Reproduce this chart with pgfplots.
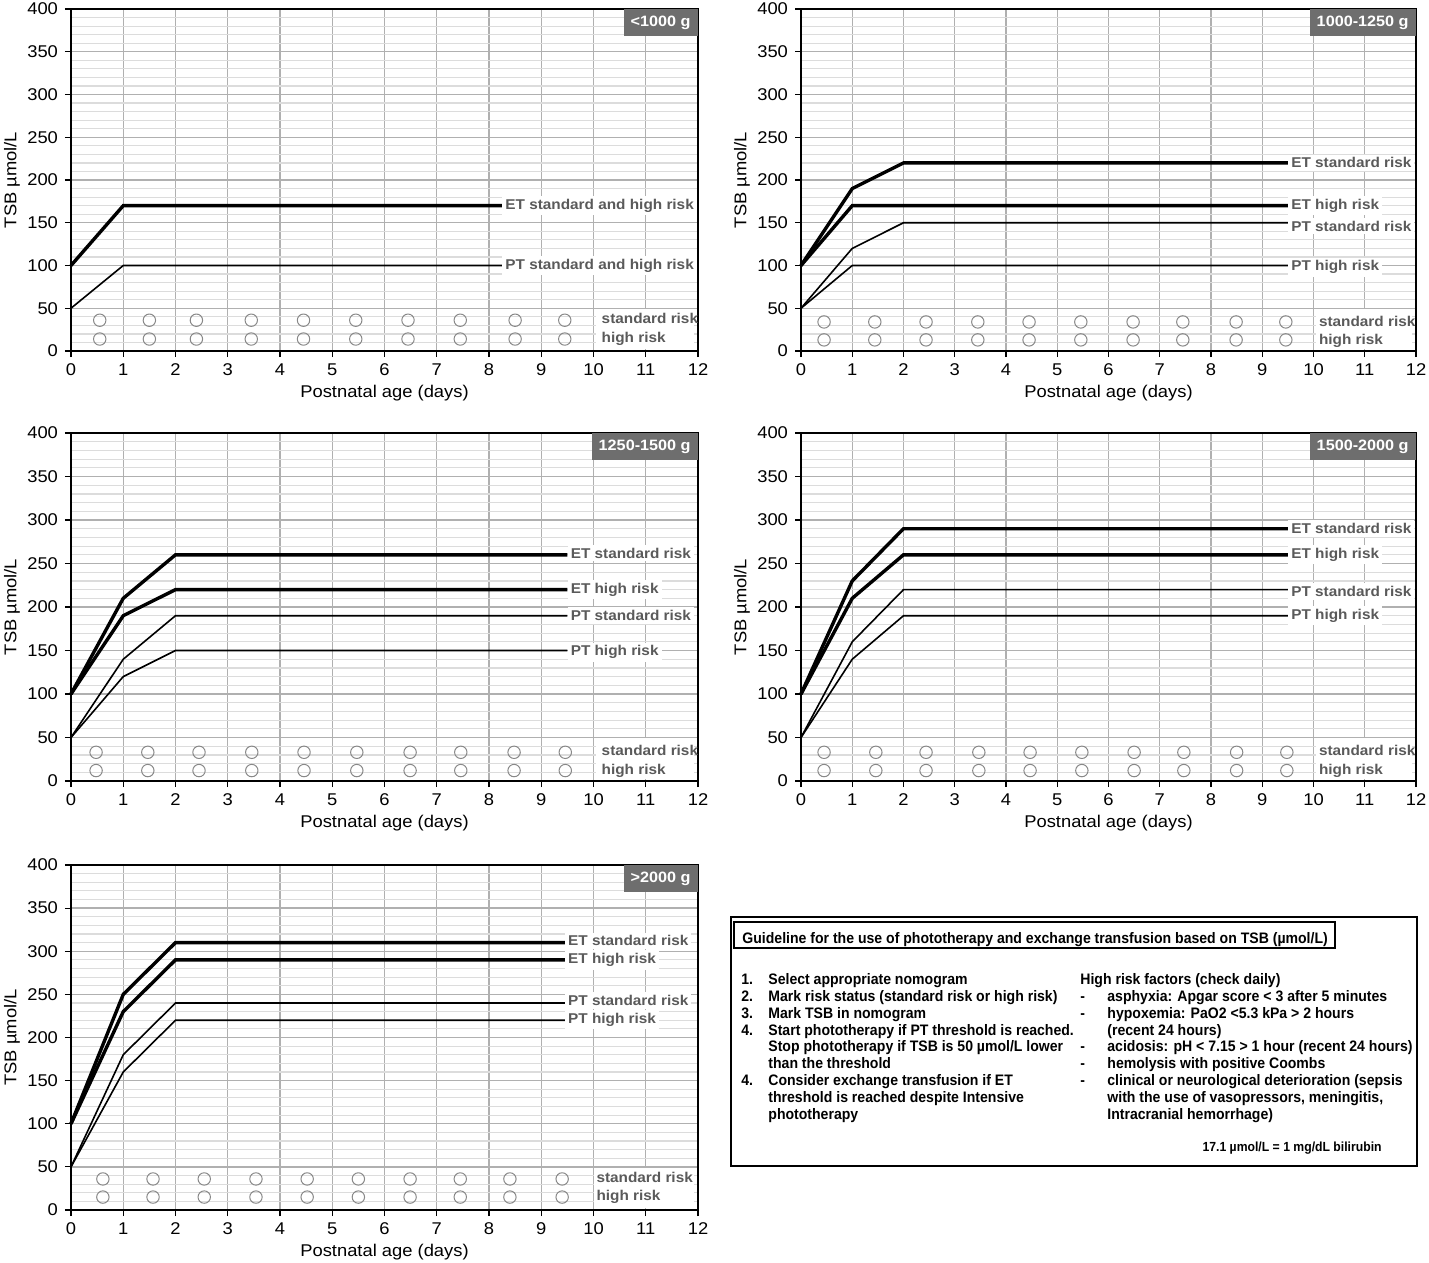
\documentclass[border=0pt]{standalone}
\usepackage{fontspec}
\setmainfont{Liberation Sans}[FakeStretch=1.08]
\newfontfamily\legfont{Liberation Sans}[FakeStretch=0.925]
\usepackage{pgfplots}
\pgfplotsset{compat=1.18}
\definecolor{majgrid}{HTML}{B0B0B0}
\definecolor{mingrid}{HTML}{DCDCDC}
\definecolor{lblgray}{HTML}{5A5A5A}
\definecolor{boxgray}{HTML}{6E6E6E}
\definecolor{circgray}{HTML}{888888}
\pgfplotsset{
  nomo/.style={
    scale only axis, anchor=south west,
    xmin=0, xmax=12, ymin=0, ymax=400,
    xtick={0,1,...,12}, ytick={0,50,...,400},
    minor y tick num=4,
    grid=both,
    major grid style={majgrid, line width=0.7pt},
    minor grid style={mingrid, line width=0.6pt},
    axis line style={black, line width=1pt},
    xtick pos=bottom, ytick pos=left,
    tick align=outside, major tick length=3pt, minor tick length=0pt,
    tick style={black, line width=0.6pt},
    /pgf/number format/assume math mode=true,
    tick label style={font=\fontsize{8.5}{10}\selectfont},
    every axis x label/.style={at={(axis description cs:0.5,0)}, anchor=center, yshift=-21pt, font=\fontsize{8.5}{10}\selectfont},
    every axis y label/.style={at={(axis description cs:0,0.5)}, anchor=center, xshift=-29.5pt, rotate=90, font=\fontsize{8.5}{10}\selectfont},
    xlabel={Postnatal age (days)}, ylabel={TSB µmol/L},
    clip=false,
  },
  et/.style={black, line width=1.7pt, line join=miter, mark=none},
  pt/.style={black, line width=0.8pt, mark=none},
  circ/.style={only marks, mark=o, mark size=3.1pt, mark options={circgray, line width=0.5pt}},
}
\tikzset{
  lbl/.style={fill=white, text=lblgray, font=\bfseries\fontsize{7.1}{8}\selectfont, anchor=west, inner xsep=1.5pt, inner ysep=1.5pt},
  rsk/.style={text=lblgray, font=\bfseries\fontsize{7.1}{8}\selectfont, anchor=west, inner sep=0pt},
  wbox/.style={fill=boxgray, text=white, font=\bfseries\fontsize{7.5}{9}\selectfont, anchor=north east, minimum height=13.5pt, inner xsep=3.5pt},
  lg/.style={anchor=west, inner sep=0pt, text height=5.5pt, text depth=1.5pt, font=\legfont\bfseries\fontsize{7.6}{9}\selectfont},
}
\begin{document}
\begin{tikzpicture}
\useasboundingbox (0,0) rectangle (714.5pt,-631.5pt);

% Panel 1
\begin{axis}[nomo, at={(35.5pt,-175.5pt)}, width=313.5pt, height=171pt]
\addplot[et] coordinates {(0,100)(1,170)(8.25,170)};
\addplot[pt] coordinates {(0,50)(1,100)(8.25,100)};
\addplot[circ] coordinates {(0.55,36)(1.5,36)(2.4,36)(3.45,36)(4.45,36)(5.45,36)(6.45,36)(7.45,36)(8.5,36)(9.45,36)};
\addplot[circ] coordinates {(0.55,14)(1.5,14)(2.4,14)(3.45,14)(4.45,14)(5.45,14)(6.45,14)(7.45,14)(8.5,14)(9.45,14)};
\fill[white] (axis cs:10.05,2) rectangle (axis cs:11.93,49);
\node[lbl] at (axis cs:8.25,170) {ET standard and high risk};
\node[lbl] at (axis cs:8.25,100) {PT standard and high risk};
\node[rsk] at (axis cs:10.15,38) {standard risk};
\node[rsk] at (axis cs:10.15,14) {high risk};
\node[wbox] at (axis cs:12,400) {<1000 g};
\end{axis}

% Panel 2
\begin{axis}[nomo, at={(400.5pt,-175.5pt)}, width=307.5pt, height=171pt]
\addplot[et] coordinates {(0,100)(1,190)(2,220)(9.5,220)};
\addplot[et] coordinates {(0,100)(1,170)(9.5,170)};
\addplot[pt] coordinates {(0,50)(1,120)(2,150)(9.5,150)};
\addplot[pt] coordinates {(0,50)(1,100)(9.5,100)};
\addplot[circ] coordinates {(0.45,34)(1.44,34)(2.44,34)(3.45,34)(4.45,34)(5.46,34)(6.48,34)(7.45,34)(8.49,34)(9.46,34)};
\addplot[circ] coordinates {(0.45,13)(1.44,13)(2.44,13)(3.45,13)(4.45,13)(5.46,13)(6.48,13)(7.45,13)(8.49,13)(9.46,13)};
\fill[white] (axis cs:10.05,2) rectangle (axis cs:11.93,49);
\node[lbl] at (axis cs:9.5,220) {ET standard risk};
\node[lbl] at (axis cs:9.5,170) {ET high risk};
\node[lbl] at (axis cs:9.5,146) {PT standard risk};
\node[lbl] at (axis cs:9.5,98) {PT high risk};
\node[rsk] at (axis cs:10.1,35) {standard risk};
\node[rsk] at (axis cs:10.1,12) {high risk};
\node[wbox] at (axis cs:12,400) {1000-1250 g};
\end{axis}

% Panel 3
\begin{axis}[nomo, at={(35.5pt,-390.5pt)}, width=313.5pt, height=174pt]
\addplot[et] coordinates {(0,100)(1,210)(2,260)(9.5,260)};
\addplot[et] coordinates {(0,100)(1,190)(2,220)(9.5,220)};
\addplot[pt] coordinates {(0,50)(1,140)(2,190)(9.5,190)};
\addplot[pt] coordinates {(0,50)(1,120)(2,150)(9.5,150)};
\addplot[circ] coordinates {(0.48,33)(1.47,33)(2.45,33)(3.46,33)(4.46,33)(5.47,33)(6.49,33)(7.46,33)(8.48,33)(9.46,33)};
\addplot[circ] coordinates {(0.48,12)(1.47,12)(2.45,12)(3.46,12)(4.46,12)(5.47,12)(6.49,12)(7.46,12)(8.48,12)(9.46,12)};
\fill[white] (axis cs:10.05,2) rectangle (axis cs:11.93,49);
\node[lbl] at (axis cs:9.5,262) {ET standard risk};
\node[lbl] at (axis cs:9.5,220) {ET high risk};
\node[lbl] at (axis cs:9.5,190) {PT standard risk};
\node[lbl] at (axis cs:9.5,148) {PT high risk};
\node[rsk] at (axis cs:10.15,35) {standard risk};
\node[rsk] at (axis cs:10.15,12) {high risk};
\node[wbox] at (axis cs:12,400) {1250-1500 g};
\end{axis}

% Panel 4
\begin{axis}[nomo, at={(400.5pt,-390.5pt)}, width=307.5pt, height=174pt]
\addplot[et] coordinates {(0,100)(1,230)(2,290)(9.5,290)};
\addplot[et] coordinates {(0,100)(1,210)(2,260)(9.5,260)};
\addplot[pt] coordinates {(0,50)(1,160)(2,220)(9.5,220)};
\addplot[pt] coordinates {(0,50)(1,140)(2,190)(9.5,190)};
\addplot[circ] coordinates {(0.45,33)(1.46,33)(2.44,33)(3.47,33)(4.47,33)(5.48,33)(6.5,33)(7.47,33)(8.5,33)(9.48,33)};
\addplot[circ] coordinates {(0.45,12)(1.46,12)(2.44,12)(3.47,12)(4.47,12)(5.48,12)(6.5,12)(7.47,12)(8.5,12)(9.48,12)};
\fill[white] (axis cs:10.05,2) rectangle (axis cs:11.93,49);
\node[lbl] at (axis cs:9.5,290) {ET standard risk};
\node[lbl] at (axis cs:9.5,260) {ET high risk};
\node[lbl] at (axis cs:9.5,218) {PT standard risk};
\node[lbl] at (axis cs:9.5,190) {PT high risk};
\node[rsk] at (axis cs:10.1,35) {standard risk};
\node[rsk] at (axis cs:10.1,12) {high risk};
\node[wbox] at (axis cs:12,400) {1500-2000 g};
\end{axis}

% Panel 5
\begin{axis}[nomo, at={(35.5pt,-605pt)}, width=313.5pt, height=172.5pt]
\addplot[et] coordinates {(0,100)(1,250)(2,310)(9.45,310)};
\addplot[et] coordinates {(0,100)(1,230)(2,290)(9.45,290)};
\addplot[pt] coordinates {(0,50)(1,180)(2,240)(9.45,240)};
\addplot[pt] coordinates {(0,50)(1,160)(2,220)(9.45,220)};
\addplot[circ] coordinates {(0.61,36)(1.57,36)(2.55,36)(3.54,36)(4.52,36)(5.5,36)(6.49,36)(7.45,36)(8.4,36)(9.4,36)};
\addplot[circ] coordinates {(0.61,15)(1.57,15)(2.55,15)(3.54,15)(4.52,15)(5.5,15)(6.49,15)(7.45,15)(8.4,15)(9.4,15)};
\fill[white] (axis cs:10,2) rectangle (axis cs:11.93,49);
\node[lbl] at (axis cs:9.45,312) {ET standard risk};
\node[lbl] at (axis cs:9.45,290) {ET high risk};
\node[lbl] at (axis cs:9.45,243) {PT standard risk};
\node[lbl] at (axis cs:9.45,221) {PT high risk};
\node[rsk] at (axis cs:10.05,38) {standard risk};
\node[rsk] at (axis cs:10.05,15) {high risk};
\node[wbox] at (axis cs:12,400) {>2000 g};
\end{axis}

% Guideline box
\draw[black, line width=0.8pt] (365.5pt,-458.5pt) rectangle (708.5pt,-583pt);
\draw[black, line width=1.1pt] (367pt,-461pt) rectangle (667.5pt,-474pt);
\node[lg] at (371pt,-469.5pt) {Guideline for the use of phototherapy and exchange transfusion based on TSB (µmol/L)};

\node[lg] at (370.5pt,-490pt) {1.};
\node[lg] at (384pt,-490pt) {Select appropriate nomogram};
\node[lg] at (370.5pt,-498.5pt) {2.};
\node[lg] at (384pt,-498.5pt) {Mark risk status (standard risk or high risk)};
\node[lg] at (370.5pt,-507pt) {3.};
\node[lg] at (384pt,-507pt) {Mark TSB in nomogram};
\node[lg] at (370.5pt,-515.5pt) {4.};
\node[lg] at (384pt,-515.5pt) {Start phototherapy if PT threshold is reached.};
\node[lg] at (384pt,-523.5pt) {Stop phototherapy if TSB is 50 µmol/L lower};
\node[lg] at (384pt,-532pt) {than the threshold};
\node[lg] at (370.5pt,-540.5pt) {4.};
\node[lg] at (384pt,-540.5pt) {Consider exchange transfusion if ET};
\node[lg] at (384pt,-549pt) {threshold is reached despite Intensive};
\node[lg] at (384pt,-557.5pt) {phototherapy};

\node[lg] at (540pt,-490pt) {High risk factors (check daily)};
\node[lg] at (540pt,-498.5pt) {-};
\node[lg] at (553.5pt,-498.5pt) {asphyxia: Apgar score < 3 after 5 minutes};
\node[lg] at (540pt,-507pt) {-};
\node[lg] at (553.5pt,-507pt) {hypoxemia: PaO2 <5.3 kPa > 2 hours};
\node[lg] at (553.5pt,-515.5pt) {(recent 24 hours)};
\node[lg] at (540pt,-523.5pt) {-};
\node[lg] at (553.5pt,-523.5pt) {acidosis: pH < 7.15 > 1 hour (recent 24 hours)};
\node[lg] at (540pt,-532pt) {-};
\node[lg] at (553.5pt,-532pt) {hemolysis with positive Coombs};
\node[lg] at (540pt,-540.5pt) {-};
\node[lg] at (553.5pt,-540.5pt) {clinical or neurological deterioration (sepsis};
\node[lg] at (553.5pt,-549pt) {with the use of vasopressors, meningitis,};
\node[lg] at (553.5pt,-557.5pt) {Intracranial hemorrhage)};

\node[anchor=east, inner sep=0pt, font=\legfont\bfseries\fontsize{6.6}{8}\selectfont] at (691pt,-574pt) {17.1 µmol/L = 1 mg/dL bilirubin};
\end{tikzpicture}
\end{document}
